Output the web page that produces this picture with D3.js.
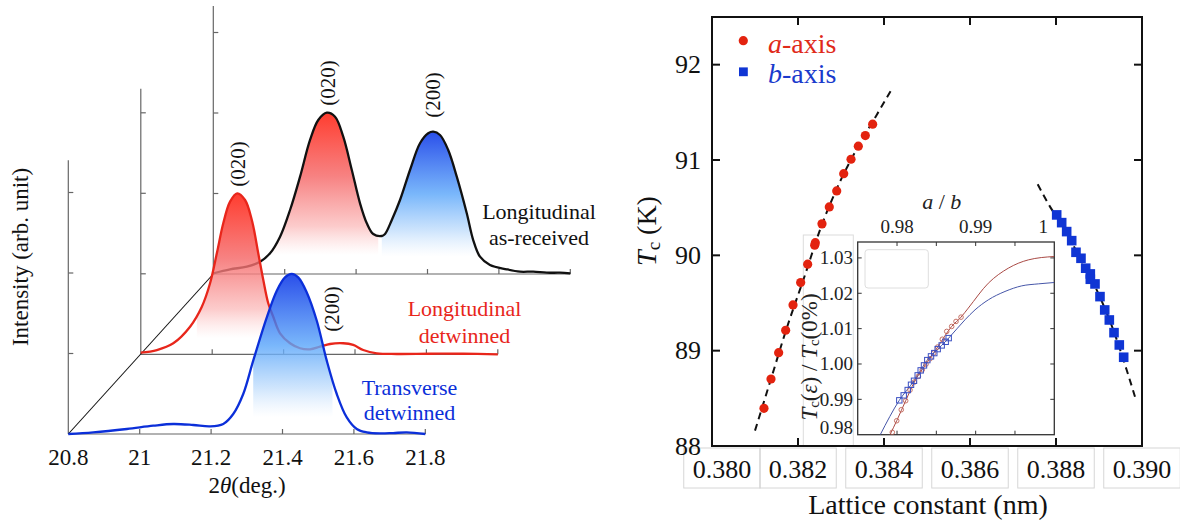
<!DOCTYPE html>
<html><head><meta charset="utf-8">
<script src="https://cdn.jsdelivr.net/npm/d3@7"></script>
<style>
html,body{margin:0;padding:0;background:#fff;}
svg{display:block;}
</style></head><body>
<svg id="chart" width="1180" height="522" font-family="Liberation Serif"></svg>
<script>
// ---------------- LEFT PANEL DATA (2θ in each layer's own frame, intensity in tick units) -------------
const thetaTicks = [20.8, 21.0, 21.2, 21.4, 21.6, 21.8];
const thetaTickLabels = ["20.8", "21", "21.2", "21.4", "21.6", "21.8"];
const intensityTicks = [1, 2, 3];

const thetaTransverse = [20.8, 20.870, 20.964, 21.038, 21.094, 21.150, 21.197, 21.234, 21.262, 21.290, 21.318, 21.356, 21.384, 21.407, 21.426, 21.444, 21.468, 21.496, 21.524, 21.552, 21.580, 21.608, 21.636, 21.673, 21.710, 21.748, 21.8];
const intTransverse   = [0, 0.02, 0.062, 0.103, 0.124, 0.112, 0.094, 0.124, 0.248, 0.497, 0.911, 1.449, 1.78, 1.945, 1.988, 1.945, 1.759, 1.407, 0.911, 0.497, 0.206, 0.062, 0.02, 0.007, 0.012, 0.02, 0];

const thetaLongDetw = [20.8, 20.845, 20.891, 20.938, 20.971, 20.994, 21.013, 21.031, 21.050, 21.070, 21.092, 21.111, 21.129, 21.143, 21.157, 21.171, 21.190, 21.218, 21.246, 21.274, 21.302, 21.330, 21.367, 21.395, 21.423, 21.461, 21.517, 21.610, 21.703, 21.8];
const intLongDetw   = [0.02, 0.053, 0.137, 0.343, 0.591, 0.882, 1.255, 1.627, 1.896, 2.0, 1.917, 1.669, 1.255, 0.925, 0.634, 0.467, 0.261, 0.137, 0.075, 0.062, 0.094, 0.128, 0.137, 0.116, 0.053, 0.012, 0.004, 0.007, 0.007, 0];

const thetaLongAsRec = [20.8, 20.847, 20.894, 20.931, 20.959, 20.987, 21.015, 21.043, 21.071, 21.094, 21.118, 21.141, 21.164, 21.188, 21.211, 21.230, 21.248, 21.272, 21.281, 21.300, 21.323, 21.351, 21.379, 21.402, 21.416, 21.435, 21.458, 21.482, 21.510, 21.528, 21.547, 21.575, 21.622, 21.659, 21.696, 21.734, 21.771, 21.8];
const intLongAsRec   = [0.009, 0.058, 0.091, 0.153, 0.257, 0.463, 0.795, 1.209, 1.665, 1.913, 2.004, 1.954, 1.706, 1.292, 0.878, 0.630, 0.497, 0.472, 0.497, 0.671, 0.919, 1.292, 1.624, 1.748, 1.768, 1.727, 1.540, 1.209, 0.754, 0.422, 0.215, 0.112, 0.058, 0.029, 0.029, 0.016, 0.016, 0.009];

// shaded peak regions
const fillLayer = [2, 2, 1, 0];
const fillFrom  = [20.964, 21.272, 20.957, 21.318];
const fillTo    = [21.262, 21.542, 21.162, 21.540];
const fillFloor = [0.236, 0.215, 0.20, 0.21];
const fillKind  = ["red", "blue", "red", "blue"];

const peakLabelText  = ["(020)", "(200)", "(020)", "(200)"];
const peakLabelLayer = [2, 2, 1, 0];
const peakLabelTheta = [21.120, 21.415, 21.071, 21.538];
const peakLabelInt   = [2.09, 1.94, 2.08, 1.27];

// ---------------- RIGHT PANEL DATA -------------
const latticeTicks = [0.380, 0.382, 0.384, 0.386, 0.388, 0.390];
const tcTicks = [88, 89, 90, 91, 92];

const aLattice = [0.381209, 0.381372, 0.381550, 0.381713, 0.381884, 0.382062, 0.382225, 0.382388, 0.382403, 0.382558, 0.382728, 0.382900, 0.383063, 0.383233, 0.383403, 0.383566, 0.383736];
const aTc      = [88.395, 88.703, 88.979, 89.214, 89.480, 89.714, 89.907, 90.106, 90.133, 90.330, 90.508, 90.676, 90.857, 91.008, 91.145, 91.256, 91.376];
const bLattice = [0.388016, 0.388132, 0.388248, 0.388365, 0.388465, 0.388581, 0.388690, 0.388798, 0.388798, 0.388907, 0.389023, 0.389133, 0.389240, 0.389349, 0.389472, 0.389574];
const bTc      = [90.424, 90.343, 90.249, 90.154, 90.032, 89.969, 89.865, 89.805, 89.749, 89.700, 89.567, 89.427, 89.322, 89.189, 89.060, 88.931];

const fitALattice = [0.381000, 0.381365, 0.381737, 0.382163, 0.382512, 0.382977, 0.383442, 0.383830, 0.384179];
const fitATc      = [88.161, 88.693, 89.235, 89.794, 90.267, 90.773, 91.176, 91.473, 91.743];
const fitBLattice = [0.387574, 0.387860, 0.388170, 0.388558, 0.388946, 0.389333, 0.389644, 0.389837];
const fitBTc      = [90.746, 90.511, 90.301, 89.969, 89.637, 89.217, 88.797, 88.517];

// ---------------- INSET DATA -------------
const insetXTicks = [0.98, 0.985, 0.99, 0.995];
const insetXLabelVals = [0.98, 0.99, 1.0];
const insetXLabels = ["0.98", "0.99", "1"];
const insetYTicks = [0.98, 0.99, 1.00, 1.01, 1.02, 1.03];

const insetRedAB = [0.97940, 0.97996, 0.98054, 0.98110, 0.98165, 0.98220, 0.98271, 0.98321, 0.98369, 0.98419, 0.98466, 0.98517, 0.98576, 0.98632, 0.98695, 0.98750, 0.98814];
const insetRedTc = [0.98068, 0.98395, 0.98706, 0.98960, 0.99263, 0.99489, 0.99650, 0.99836, 0.99997, 1.00147, 1.00308, 1.00480, 1.00700, 1.00921, 1.01062, 1.01203, 1.01325];
const insetBlueAB = [0.98029, 0.98085, 0.98136, 0.98178, 0.98216, 0.98263, 0.98301, 0.98343, 0.98385, 0.98432, 0.98474, 0.98517, 0.98568, 0.98619, 0.98657];
const insetBlueTc = [0.98972, 0.99113, 0.99263, 0.99412, 0.99525, 0.99678, 0.99819, 0.99960, 1.00110, 1.00215, 1.00308, 1.00421, 1.00525, 1.00627, 1.00732];

const insetRedFitAB = [0.97911, 0.97996, 0.98110, 0.98220, 0.98369, 0.98517, 0.98695, 0.98814, 0.98906, 0.99161, 0.99415, 0.99669, 1.0];
const insetRedFitTc = [0.98, 0.98395, 0.98960, 0.99489, 0.99997, 1.00480, 1.01062, 1.01325, 1.0158, 1.02285, 1.02709, 1.02944, 1.0304];
const insetBlueFitAB = [0.97787, 0.98029, 0.98216, 0.98385, 0.98568, 0.98657, 0.98864, 0.98992, 0.99161, 0.99373, 0.99585, 0.99797, 1.0];
const insetBlueFitTc = [0.98, 0.98972, 0.99525, 1.00110, 1.00525, 1.00732, 1.01249, 1.01531, 1.01814, 1.02051, 1.02209, 1.02266, 1.02305];

// =================================================================
const FONT = "Liberation Serif";
const svg = d3.select("#chart");
const defs = svg.append("defs");
const T = (sel) => sel.append("text").attr("font-family", FONT);

// ---------------- LEFT PANEL -------------
const xL = d3.scaleLinear().domain([20.8, 21.8]).range([68.3, 425.3]);
const unitPx = 80.5;
const layers = [
  {dx: 0,     base: 434,   top: 3.40, color: "#0b2fd9"},
  {dx: 72.5,  base: 354.3, top: 3.30, color: "#e8261b"},
  {dx: 145,   base: 274,   top: 3.33, color: "#111111"}
];
const lx = (L, t) => xL(t) + L.dx;
const ly = (L, I) => L.base - I * unitPx;

const axG = svg.append("g").attr("stroke", "#666").attr("stroke-width", 1.2).attr("fill", "none");
layers.forEach(L => {
  axG.append("line").attr("x1", lx(L, 20.8)).attr("x2", lx(L, 21.8)).attr("y1", L.base).attr("y2", L.base);
  axG.append("line").attr("x1", lx(L, 20.8)).attr("x2", lx(L, 20.8)).attr("y1", L.base).attr("y2", ly(L, L.top));
  thetaTicks.slice(1).forEach(t => axG.append("line").attr("x1", lx(L, t)).attr("x2", lx(L, t)).attr("y1", L.base).attr("y2", L.base - 5));
  intensityTicks.forEach(i => axG.append("line").attr("x1", lx(L, 20.8)).attr("x2", lx(L, 20.8) + 5).attr("y1", ly(L, i)).attr("y2", ly(L, i)));
});
svg.append("line").attr("x1", lx(layers[0], 20.8)).attr("y1", layers[0].base)
  .attr("x2", lx(layers[2], 20.8)).attr("y2", layers[2].base).attr("stroke", "#111").attr("stroke-width", 1.1);

const series = [
  {layer: 0, th: thetaTransverse, it: intTransverse},
  {layer: 1, th: thetaLongDetw, it: intLongDetw},
  {layer: 2, th: thetaLongAsRec, it: intLongAsRec}
];
const curveF = d3.curveCatmullRom.alpha(0.5);
const gradStops = {
  red:  [[0, "#ff1a0a", 1], [0.45, "#f56565", 0.95], [0.8, "#fbbcbc", 0.9], [1, "#ffffff", 0.6]],
  blue: [[0, "#0530e6", 1], [0.5, "#5aa6fa", 0.95], [0.8, "#c2defc", 0.9], [1, "#ffffff", 0.6]]
};

[2, 1, 0].forEach(li => {
  const L = layers[li];
  const s = series.find(d => d.layer === li);
  const pts = s.th.map((t, i) => ({t, I: s.it[i]}));
  const g = svg.append("g");
  fillLayer.forEach((fl, fi) => {
    if (fl !== li) return;
    const inR = pts.filter(p => p.t >= fillFrom[fi] && p.t <= fillTo[fi]);
    const peak = d3.max(inR, p => p.I);
    const cid = "clipF" + fi, gid = "gradF" + fi;
    defs.append("clipPath").attr("id", cid).append("rect")
      .attr("x", lx(L, fillFrom[fi])).attr("width", lx(L, fillTo[fi]) - lx(L, fillFrom[fi]))
      .attr("y", 0).attr("height", ly(L, fillFloor[fi]));
    const gr = defs.append("linearGradient").attr("id", gid).attr("gradientUnits", "userSpaceOnUse")
      .attr("x1", 0).attr("x2", 0).attr("y1", ly(L, peak)).attr("y2", ly(L, fillFloor[fi]));
    gradStops[fillKind[fi]].forEach(st => gr.append("stop").attr("offset", st[0]).attr("stop-color", st[1]).attr("stop-opacity", st[2]));
    g.append("path").datum(pts)
      .attr("d", d3.area().x(p => lx(L, p.t)).y0(L.base).y1(p => ly(L, p.I)).curve(curveF))
      .attr("fill", `url(#${gid})`).attr("fill-opacity", 0.85).attr("clip-path", `url(#${cid})`);
  });
  g.append("path").datum(pts)
    .attr("d", d3.line().x(p => lx(L, p.t)).y(p => ly(L, p.I)).curve(curveF))
    .attr("fill", "none").attr("stroke", L.color).attr("stroke-width", 2.3).attr("stroke-linejoin", "round");
});

peakLabelText.forEach((txt, i) => {
  const L = layers[peakLabelLayer[i]];
  const x = lx(L, peakLabelTheta[i]), y = ly(L, peakLabelInt[i]);
  T(svg).attr("transform", `translate(${x},${y}) rotate(-90)`)
    .attr("dominant-baseline", "central").attr("font-size", 21).attr("fill", "#111").text(txt);
});

thetaTicks.forEach((t, i) => {
  T(svg).attr("x", xL(t)).attr("y", 465).attr("text-anchor", "middle")
    .attr("font-size", 23).attr("fill", "#111").text(thetaTickLabels[i]);
});
const xt = T(svg).attr("x", 247).attr("y", 493).attr("text-anchor", "middle").attr("font-size", 23).attr("fill", "#111");
xt.append("tspan").text("2");
xt.append("tspan").attr("font-style", "italic").text("θ");
xt.append("tspan").text("(deg.)");
T(svg).attr("transform", "translate(20,257) rotate(-90)").attr("text-anchor", "middle")
  .attr("dominant-baseline", "central").attr("font-size", 23).attr("fill", "#111").text("Intensity (arb. unit)");

const names = [
  {lines: ["Longitudinal", "as-received"], x: 539, y: [218.5, 244.5], c: "#111"},
  {lines: ["Longitudinal", "detwinned"], x: 464.5, y: [316, 342.5], c: "#e8261b"},
  {lines: ["Transverse", "detwinned"], x: 409.5, y: [394.5, 420], c: "#0b2fd9"}
];
names.forEach(n => n.lines.forEach((l, i) => T(svg).attr("x", n.x).attr("y", n.y[i])
  .attr("text-anchor", "middle").attr("font-size", 22).attr("fill", n.c).text(l)));

// ---------------- RIGHT PANEL -------------
const xR = d3.scaleLinear().domain([0.380, 0.390]).range([712, 1142]);
const yR = d3.scaleLinear().domain([88, 92.5]).range([446, 17]);

// inset
const xI = d3.scaleLinear().domain([0.975, 1.0]).range([857.7, 1054.3]);
const yI = d3.scaleLinear().domain([0.98, 1.0345]).range([434.7, 242]);
const ins = svg.append("g");
ins.append("rect").attr("x", 803.3).attr("y", 235).attr("width", 50).attr("height", 211)
  .attr("fill", "none").attr("stroke", "#dcdcdc").attr("stroke-width", 1);
ins.append("rect").attr("x", xI.range()[0]).attr("y", yI.range()[1]).attr("width", xI.range()[1] - xI.range()[0])
  .attr("height", yI.range()[0] - yI.range()[1]).attr("fill", "none").attr("stroke", "#333").attr("stroke-width", 1.3);
ins.append("rect").attr("x", 865).attr("y", 249.7).attr("width", 63.3).attr("height", 38.3).attr("rx", 3)
  .attr("fill", "none").attr("stroke", "#dedede").attr("stroke-width", 1);
insetXTicks.forEach(v => {
  ins.append("line").attr("x1", xI(v)).attr("x2", xI(v)).attr("y1", yI.range()[1]).attr("y2", yI.range()[1] + 4).attr("stroke", "#333");
  ins.append("line").attr("x1", xI(v)).attr("x2", xI(v)).attr("y1", yI.range()[0]).attr("y2", yI.range()[0] - 4).attr("stroke", "#333");
});
insetYTicks.slice(1).forEach(v => {
  ins.append("line").attr("x1", xI.range()[0]).attr("x2", xI.range()[0] + 4).attr("y1", yI(v)).attr("y2", yI(v)).attr("stroke", "#333");
  ins.append("line").attr("x1", xI.range()[1]).attr("x2", xI.range()[1] - 4).attr("y1", yI(v)).attr("y2", yI(v)).attr("stroke", "#333");
});
insetYTicks.forEach(v => {
  T(ins).attr("x", 853).attr("y", Math.min(yI(v), yI.range()[0] - 7)).attr("text-anchor", "end")
    .attr("dominant-baseline", "central").attr("font-size", 19).attr("fill", "#222").text(v.toFixed(2));
});
insetXLabelVals.forEach((v, i) => {
  T(ins).attr("x", Math.min(xI(v), xI.range()[1] - 11)).attr("y", 233).attr("text-anchor", "middle")
    .attr("font-size", 19).attr("fill", "#222").text(insetXLabels[i]);
});
const abT = T(ins).attr("x", 941.7).attr("y", 209).attr("text-anchor", "middle").attr("font-size", 22).attr("fill", "#222");
abT.append("tspan").attr("font-style", "italic").text("a");
abT.append("tspan").text(" / ");
abT.append("tspan").attr("font-style", "italic").text("b");
const iyT = T(ins).attr("transform", "translate(809,357) rotate(-90)").attr("text-anchor", "middle")
  .attr("dominant-baseline", "central").attr("font-size", 23).attr("fill", "#222");
iyT.append("tspan").attr("font-style", "italic").text("T");
iyT.append("tspan").attr("font-size", 15).attr("dy", 5).text("c");
iyT.append("tspan").attr("dy", -5).text("(");
iyT.append("tspan").attr("font-style", "italic").text("ε");
iyT.append("tspan").text(") / ");
iyT.append("tspan").attr("font-style", "italic").text("T");
iyT.append("tspan").attr("font-size", 15).attr("dy", 5).text("c");
iyT.append("tspan").attr("dy", -5).text("(0%)");

defs.append("clipPath").attr("id", "insClip").append("rect")
  .attr("x", xI.range()[0]).attr("y", yI.range()[1]).attr("width", xI.range()[1] - xI.range()[0]).attr("height", yI.range()[0] - yI.range()[1]);
const insPlot = ins.append("g").attr("clip-path", "url(#insClip)");
const insLine = d3.line().x(d => xI(d[0])).y(d => yI(d[1])).curve(d3.curveMonotoneX);
insPlot.append("path").datum(insetRedFitAB.map((v, i) => [v, insetRedFitTc[i]])).attr("d", insLine)
  .attr("fill", "none").attr("stroke", "#a94a45").attr("stroke-width", 1);
insPlot.append("path").datum(insetBlueFitAB.map((v, i) => [v, insetBlueFitTc[i]])).attr("d", insLine)
  .attr("fill", "none").attr("stroke", "#4656a8").attr("stroke-width", 1);
insetRedAB.forEach((v, i) => insPlot.append("circle").attr("cx", xI(v)).attr("cy", yI(insetRedTc[i])).attr("r", 2.3)
  .attr("fill", "none").attr("stroke", "#c06458").attr("stroke-width", 0.9));
insetBlueAB.forEach((v, i) => insPlot.append("rect").attr("x", xI(v) - 2.7).attr("y", yI(insetBlueTc[i]) - 2.7)
  .attr("width", 5.4).attr("height", 5.4).attr("fill", "none").attr("stroke", "#3a4fc2").attr("stroke-width", 1));

// main frame
const fr = svg.append("g");
fr.append("rect").attr("x", 712).attr("y", 17).attr("width", 430).attr("height", 429)
  .attr("fill", "none").attr("stroke", "#111").attr("stroke-width", 2);
latticeTicks.slice(1, -1).forEach(v => {
  fr.append("line").attr("x1", xR(v)).attr("x2", xR(v)).attr("y1", 446).attr("y2", 438).attr("stroke", "#111").attr("stroke-width", 2);
  fr.append("line").attr("x1", xR(v)).attr("x2", xR(v)).attr("y1", 17).attr("y2", 25).attr("stroke", "#111").attr("stroke-width", 2);
});
tcTicks.slice(1).forEach(v => {
  fr.append("line").attr("x1", 712).attr("x2", 720).attr("y1", yR(v)).attr("y2", yR(v)).attr("stroke", "#111").attr("stroke-width", 2);
  fr.append("line").attr("x1", 1142).attr("x2", 1134).attr("y1", yR(v)).attr("y2", yR(v)).attr("stroke", "#111").attr("stroke-width", 2);
});
latticeTicks.forEach((v, i) => {
  const t = T(fr).attr("x", xR(v) + (i === 0 ? 10 : 0)).attr("y", 478).attr("text-anchor", "middle")
    .attr("font-size", 26).attr("fill", "#111").text(v.toFixed(3));
  const bb = t.node().getBBox();
  fr.insert("rect", "text").attr("x", bb.x - 9).attr("y", 448).attr("width", bb.width + 18).attr("height", 40)
    .attr("fill", "none").attr("stroke", "#d6d6d6").attr("stroke-width", 1);
});
tcTicks.forEach(v => T(fr).attr("x", 701).attr("y", yR(v)).attr("text-anchor", "end")
  .attr("dominant-baseline", "central").attr("font-size", 26).attr("fill", "#111").text(v));
T(svg).attr("x", 928).attr("y", 514).attr("text-anchor", "middle").attr("font-size", 28).attr("fill", "#111").text("Lattice constant (nm)");
const ytR = T(svg).attr("transform", "translate(646,231) rotate(-90)").attr("text-anchor", "middle")
  .attr("dominant-baseline", "central").attr("font-size", 28).attr("fill", "#111");
ytR.append("tspan").attr("font-style", "italic").text("T");
ytR.append("tspan").attr("font-size", 19).attr("dy", 7).text("c");
ytR.append("tspan").attr("dy", -7).text(" (K)");

const mainLine = d3.line().x(d => xR(d[0])).y(d => yR(d[1])).curve(d3.curveMonotoneX);
svg.append("path").datum(fitALattice.map((v, i) => [v, fitATc[i]])).attr("d", mainLine)
  .attr("fill", "none").attr("stroke", "#111").attr("stroke-width", 2).attr("stroke-dasharray", "7,5");
svg.append("path").datum(fitBLattice.map((v, i) => [v, fitBTc[i]])).attr("d", mainLine)
  .attr("fill", "none").attr("stroke", "#111").attr("stroke-width", 2).attr("stroke-dasharray", "7,5");
aLattice.forEach((v, i) => svg.append("circle").attr("cx", xR(v)).attr("cy", yR(aTc[i])).attr("r", 4.6).attr("fill", "#e3230f"));
bLattice.forEach((v, i) => svg.append("rect").attr("x", xR(v) - 4.8).attr("y", yR(bTc[i]) - 4.8).attr("width", 9.6).attr("height", 9.6).attr("fill", "#0f35d4"));

svg.append("circle").attr("cx", 743.3).attr("cy", 40.7).attr("r", 4.6).attr("fill", "#e3230f");
svg.append("rect").attr("x", 739).attr("y", 67.4).attr("width", 8.8).attr("height", 8.8).attr("fill", "#0f35d4");
const la = T(svg).attr("x", 768).attr("y", 53).attr("font-size", 28).attr("fill", "#e02a1a");
la.append("tspan").attr("font-style", "italic").text("a");
la.append("tspan").text("-axis");
const lb = T(svg).attr("x", 768).attr("y", 83).attr("font-size", 28).attr("fill", "#1a3acc");
lb.append("tspan").attr("font-style", "italic").text("b");
lb.append("tspan").text("-axis");
</script>
</body></html>
